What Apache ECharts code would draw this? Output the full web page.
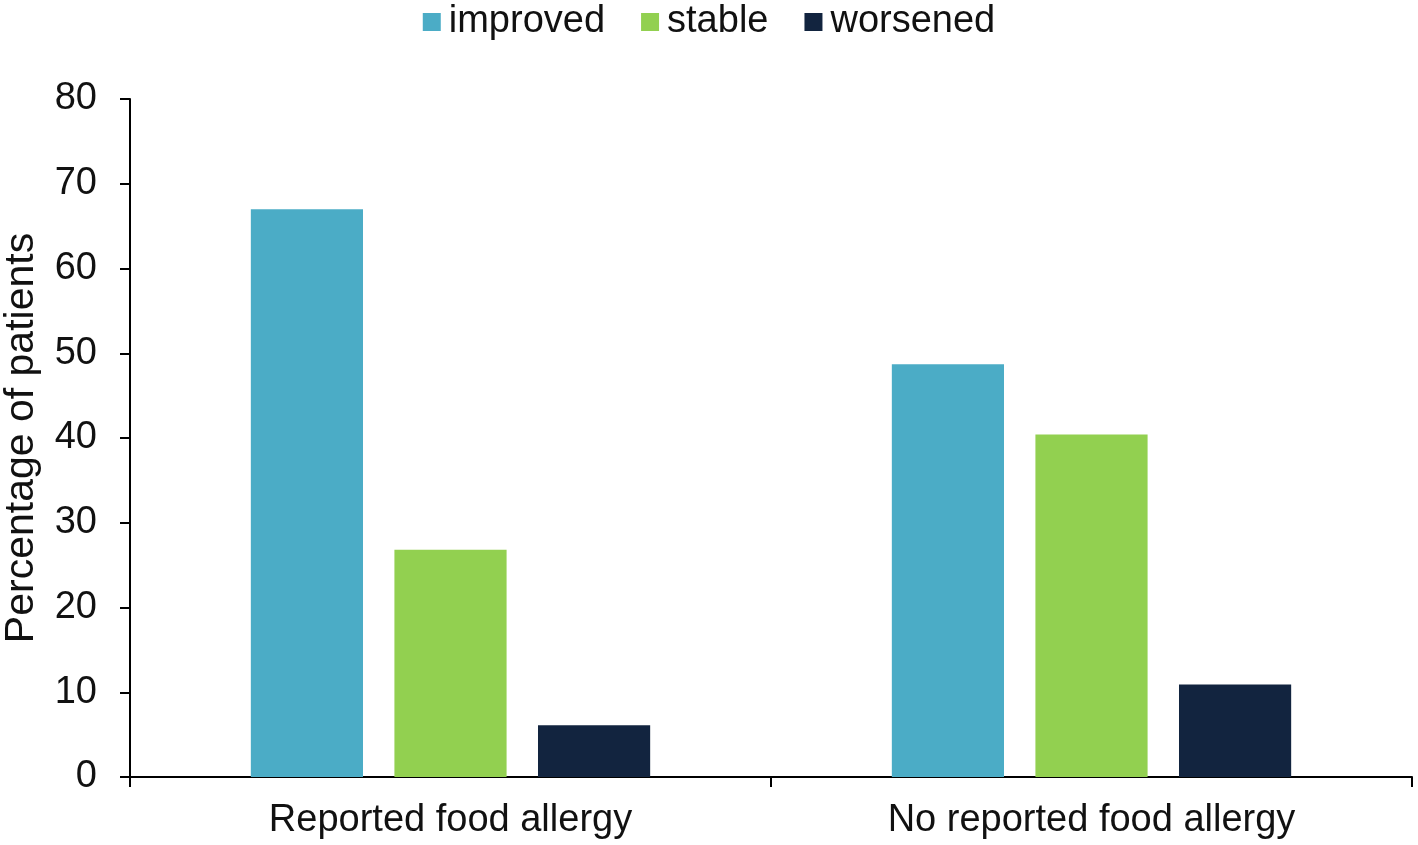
<!DOCTYPE html>
<html><head><meta charset="utf-8">
<script src="https://cdn.jsdelivr.net/npm/echarts@6/dist/echarts.min.js"></script>
<style>html,body{margin:0;padding:0;background:#fff}#c{width:1418px;height:845px}</style>
</head><body><div id="c"></div>
<script>
const categories = ['Reported food allergy', 'No reported food allergy'];
const seriesNames = ['improved', 'stable', 'worsened'];
const improved = [67.0, 48.7];
const stable = [26.8, 40.4];
const worsened = [6.1, 10.9];
const yTicks = [0, 10, 20, 30, 40, 50, 60, 70, 80];
const colors = ['#4BACC6', '#92D050', '#12243F'];
const font = 'Liberation Sans, Arial, sans-serif';

const chart = echarts.init(document.getElementById('c'), null, {renderer: 'canvas'});
const values = [improved, stable, worsened];
chart.setOption({
  animation: false,
  textStyle: {fontFamily: font},
  legend: {
    top: -2, left: 'center',
    itemWidth: 18, itemHeight: 18, itemGap: 36,
    icon: 'rect',
    textStyle: {fontSize: 38, color: '#111', fontFamily: font, padding: [0, 0, 0, 3]},
    data: seriesNames
  },
  grid: {left: 130, right: 6, top: 99, bottom: 68, containLabel: false, outerBoundsMode: 'none'},
  xAxis: {
    type: 'category', data: categories,
    axisLine: {lineStyle: {color: '#000', width: 2}},
    axisTick: {show: true, length: 10, lineStyle: {color: '#000', width: 2}},
    axisLabel: {fontSize: 38, color: '#111', fontFamily: font, margin: 25}
  },
  yAxis: {
    type: 'value', min: yTicks[0], max: yTicks[yTicks.length - 1], interval: 10,
    name: 'Percentage of patients', nameLocation: 'middle', nameGap: 88, nameRotate: 90,
    nameTextStyle: {fontSize: 41, color: '#111', fontFamily: font},
    axisLine: {show: true, lineStyle: {color: '#000', width: 2}},
    axisTick: {show: true, length: 10, lineStyle: {color: '#000', width: 2}},
    axisLabel: {fontSize: 38, color: '#111', fontFamily: font, margin: 33},
    splitLine: {show: false}
  },
  series: seriesNames.map((n, i) => ({
    name: n, type: 'bar', data: values[i],
    barWidth: '17.5%', barGap: '28%',
    itemStyle: {color: colors[i]}
  }))
});
</script></body></html>
